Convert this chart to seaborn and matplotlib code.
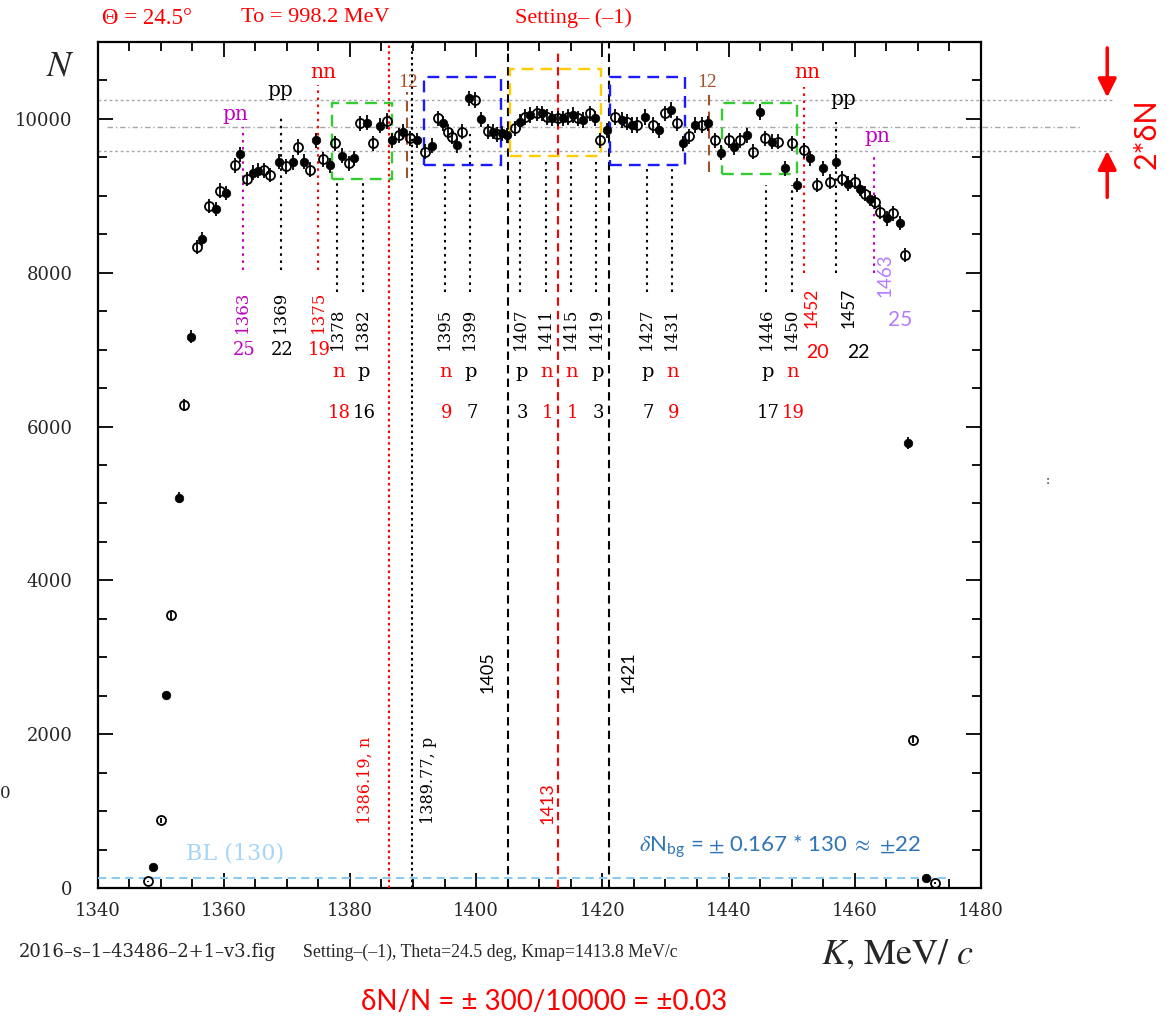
import numpy as np
import pandas as pd
import matplotlib
matplotlib.use("Agg")
import matplotlib.pyplot as plt
import seaborn as sns
from matplotlib.ticker import MultipleLocator
from matplotlib.patches import Rectangle

# ---------- DATA ----------
# filled points (K in MeV/c, counts N)
k_full = [1348.8, 1350.9, 1352.9, 1354.8, 1356.6, 1358.8, 1360.4, 1362.6, 1364.6, 1365.4,
          1368.7, 1370.9, 1372.7, 1374.7, 1376.9, 1378.7, 1380.6, 1382.7, 1384.8, 1386.6,
          1388.4, 1390.6, 1393.0, 1394.8, 1396.9, 1398.8, 1400.8, 1402.6, 1404.1, 1404.9,
          1407.0, 1408.5, 1410.4, 1412.0, 1413.8, 1415.4, 1417.0, 1418.8, 1420.7, 1423.1,
          1424.7, 1426.8, 1428.9, 1430.8, 1432.7, 1434.7, 1436.8, 1438.8, 1440.8, 1442.9,
          1445.0, 1446.9, 1449.0, 1450.8, 1452.9, 1454.9, 1457.0, 1459.0, 1460.8, 1462.4,
          1465.1, 1467.1, 1468.5, 1471.3]
n_full = [272, 2504, 5072, 7165, 8440, 8830, 9039, 9542, 9300, 9325,
          9442, 9435, 9442, 9720, 9400, 9520, 9490, 9950, 9910, 9724,
          9832, 9724, 9653, 9941, 9659, 10266, 9993, 9832, 9811, 9789,
          9962, 10049, 10071, 10006, 10006, 10049, 9984, 10006, 9854, 9984,
          9919, 10027, 9854, 10114, 9681, 9919, 9941, 9559, 9629, 9789,
          10092, 9702, 9356, 9139, 9486, 9356, 9442, 9160, 9095, 8965,
          8706, 8649, 5787, 130]

# open points
k_open = [1348.0, 1350.0, 1351.7, 1353.7, 1355.7, 1357.7, 1359.4, 1361.8, 1363.7, 1366.4,
          1367.4, 1369.9, 1371.8, 1373.7, 1375.7, 1377.6, 1379.8, 1381.6, 1383.7, 1385.8,
          1387.7, 1389.5, 1391.9, 1393.9, 1395.6, 1396.1, 1397.8, 1399.8, 1401.8, 1403.3,
          1406.2, 1407.8, 1409.6, 1411.2, 1413.0, 1414.6, 1416.2, 1418.1, 1419.6, 1422.0,
          1423.9, 1425.5, 1428.1, 1429.9, 1431.9, 1433.8, 1435.8, 1437.9, 1440.0, 1441.8,
          1443.9, 1445.8, 1447.9, 1450.0, 1451.9, 1454.0, 1456.0, 1457.9, 1460.1, 1461.6,
          1463.2, 1464.0, 1466.1, 1468.0, 1469.2, 1472.7]
n_open = [87, 881, 3548, 6284, 8330, 8870, 9065, 9399, 9220, 9334,
          9270, 9386, 9635, 9340, 9475, 9685, 9421, 9941, 9685, 9975,
          9789, 9746, 9572, 10006, 9832, 9767, 9832, 10244, 9841, 9802,
          9876, 10027, 10071, 10027, 10006, 10027, 10006, 10071, 9724, 10027,
          9962, 9919, 9919, 10071, 9941, 9776, 9919, 9724, 9724, 9724,
          9572, 9746, 9702, 9681, 9594, 9139, 9182, 9225, 9182, 9030,
          8922, 8792, 8771, 8229, 1924, 65]

# single-particle lines under the plateau
line_k = [1378, 1382, 1395, 1399, 1407, 1411, 1415, 1419, 1427, 1431, 1446, 1450]
line_kind = ["n", "p", "n", "p", "p", "n", "n", "p", "p", "n", "p", "n"]
line_count = [18, 16, 9, 7, 3, 1, 1, 3, 7, 9, 17, 19]

# pair lines
pair_k = [1363, 1369, 1375, 1452, 1457, 1463]
pair_kind = ["pn", "pp", "nn", "nn", "pp", "pn"]
pair_count = [25, 22, 19, 20, 22, 25]

# full-height reference lines
ref_k = [1386.19, 1389.77, 1405, 1413, 1421]
ref_label = ["1386.19, n", "1389.77, p", "1405", "1413", "1421"]

baseline = 130
dn_lines = [10240, 9900, 9580]

# ---------- STYLE ----------
sns.set_theme(style="ticks")
plt.rcParams["font.family"] = ["DejaVu Serif"]
plt.rcParams["mathtext.fontset"] = "stix"

RED = "#ff0000"
MAG = "#c000c0"
LAV = "#b57cff"
BROWN = "#a0522d"
SERIF = "Liberation Serif"
DSERIF = "DejaVu Serif"
SANS = "Lato"

W, H = 1167, 1019
fig = plt.figure(figsize=(W / 100, H / 100), dpi=100)
ax = fig.add_axes([97.5 / W, 1 - 888 / H, (981 - 97.5) / W, (888 - 42) / H])


def fx(px):
    return px / W


def fy(py):
    return 1 - py / H


df_full = pd.DataFrame({"K": k_full, "N": n_full})
df_open = pd.DataFrame({"K": k_open, "N": n_open})

# ---------- DATA POINTS ----------
ax.errorbar(df_full["K"], df_full["N"], yerr=np.sqrt(df_full["N"]), fmt="none",
            ecolor="black", elinewidth=1.3, zorder=5)
sns.scatterplot(data=df_full, x="K", y="N", color="black", s=38, marker="o",
                edgecolor="black", linewidth=0.5, ax=ax, zorder=6, legend=False)
ax.errorbar(df_open["K"], df_open["N"], yerr=np.sqrt(df_open["N"]), fmt="o",
            mfc="none", mec="black", mew=1.3, ms=6.5, ecolor="black",
            elinewidth=1.3, zorder=6)

# ---------- AXES ----------
ax.set_xlim(1340, 1480)
ax.set_ylim(0, 11000)
ax.set_xlabel("")
ax.set_ylabel("")
ax.xaxis.set_major_locator(MultipleLocator(20))
ax.xaxis.set_minor_locator(MultipleLocator(5))
ax.yaxis.set_major_locator(MultipleLocator(2000))
ax.yaxis.set_minor_locator(MultipleLocator(500))
ax.tick_params(which="both", direction="in", top=True, right=True,
               width=1.3, color="black")
ax.tick_params(which="major", length=11)
ax.tick_params(which="minor", length=6.5)
ax.tick_params(axis="x", which="major", pad=10, labelsize=13)
ax.tick_params(axis="y", which="major", pad=18, labelsize=13)
for lab in ax.get_xticklabels() + ax.get_yticklabels():
    lab.set_fontfamily(DSERIF)
for sp in ax.spines.values():
    sp.set_linewidth(1.6)
    sp.set_color("black")
    sp.set_visible(True)

# ---------- HORIZONTAL GUIDES ----------
ax.plot([1340, 1500.9], [dn_lines[0]] * 2, color="#a8a8a8", lw=1,
        ls=(0, (2, 2)), clip_on=False, zorder=2)
ax.plot([1341.5, 1495.9], [dn_lines[1]] * 2, color="#a8a8a8", lw=1,
        ls=(0, (4, 2, 1, 2)), clip_on=False, zorder=2)
ax.plot([1340, 1500.9], [dn_lines[2]] * 2, color="#a8a8a8", lw=1,
        ls=(0, (2, 2)), clip_on=False, zorder=2)
ax.plot([1340, 1475], [baseline] * 2, color="#8ccaf2", lw=1.5,
        ls=(0, (4, 2.5)), zorder=3)

# ---------- FULL HEIGHT LINES ----------
ref_style = [(RED, (0, (1.2, 1.6))), ("black", (0, (1.2, 1.6))),
             ("black", (0, (4, 2.5))), (RED, (0, (4, 2.5))), ("black", (0, (4, 2.5)))]
ref_top = [11000, 11000, 11000, 10894, 11000]
for k, (c, ls), top in zip(ref_k, ref_style, ref_top):
    ax.plot([k, k], [0, top], color=c, ls=ls, lw=1.5, zorder=3)

ax.text(1382.4, 1404, ref_label[0], rotation=90, color=RED, ha="center",
        va="center", fontsize=11.5, family=DSERIF)
ax.text(1392.4, 1404, ref_label[1], rotation=90, color="black", ha="center",
        va="center", fontsize=11.5, family=DSERIF)
ax.text(1401.8, 2808, ref_label[2], rotation=90, color="black", ha="center",
        va="center", fontsize=13, family=SANS)
ax.text(1411.3, 1105, ref_label[3], rotation=90, color=RED, ha="center",
        va="center", fontsize=13, family=SANS)
ax.text(1424.1, 2808, ref_label[4], rotation=90, color="black", ha="center",
        va="center", fontsize=13, family=SANS)

# ---------- DASHED BOXES ----------
boxes = [((1377.1, 9217), 1386.6, 10201, "#33cc33"),
         ((1391.8, 9399), 1403.9, 10547, "#1a1aff"),
         ((1405.4, 9516), 1419.8, 10655, "#ffcc00"),
         ((1421.2, 9399), 1433.1, 10547, "#1a1aff"),
         ((1438.9, 9282), 1450.8, 10201, "#33cc33")]
for (x0, y0), x1, y1, c in boxes:
    ax.add_patch(Rectangle((x0, y0), x1 - x0, y1 - y0, fill=False, ec=c, lw=1.7,
                           ls=(0, (5, 3)), zorder=4))

# brown "12" markers
for k, top, bot, tx in [(1389.0, 10348, 9230, 1389.2), (1436.9, 10335, 9308, 1436.6)]:
    ax.plot([k, k], [bot, top], color=BROWN, lw=1.5, ls=(0, (5, 3)), zorder=4)
    ax.text(tx, 10413, "12", color=BROWN, ha="center", va="baseline",
            fontsize=14, family=SERIF)

# ---------- SINGLE-PARTICLE LINES ----------
for k, kind, cnt in zip(line_k, line_kind, line_count):
    top = 9800 if k == 1399 else (9464 if 1405 < k < 1421 else 9204)
    if k in (1395, 1427, 1431):
        top = 9370
    if k in (1446, 1450):
        top = 9140
    ax.plot([k, k], [7748, top], color="black", ls=(0, (1.2, 2.2)), lw=1.5, zorder=3)
    c = RED if kind == "n" else "black"
    ax.text(k, 7267, str(k), rotation=90, ha="center", va="center",
            fontsize=12, family=DSERIF, color="black")
    ax.text(k + 0.2, 6708, kind, ha="center", va="center", fontsize=14,
            family=DSERIF, color=c)
    ax.text(k + 0.3, 6175, str(cnt), ha="center", va="center", fontsize=13,
            family=DSERIF, color=c)

# ---------- PAIR LINES ----------
pair_color = [MAG, "black", RED, RED, "black", MAG]
pair_top = [9893, 10049, 10439, 10413, 9958, 9503]
pair_text_y = [9984, 10296, 10530, 10530, 10179, 9702]
pair_text_x = [1361.8, 1368.9, 1375.7, 1452.5, 1458.1, 1463.5]
for i, (k, kind, cnt) in enumerate(zip(pair_k, pair_kind, pair_count)):
    c = pair_color[i]
    bottom = 8034 if i < 3 else 7995
    ax.plot([k, k], [bottom, pair_top[i]], color=c, ls=(0, (1.2, 2.2)), lw=1.5, zorder=3)
    ax.text(pair_text_x[i], pair_text_y[i], kind, color=c, ha="center",
            va="baseline", fontsize=14.5, family=DSERIF)
    if i < 3:
        ax.text(k, 7488, str(k), rotation=90, ha="center", va="center",
                fontsize=12, family=DSERIF, color=c)
        ax.text(k + 0.2, 6994, str(cnt), ha="center", va="center",
                fontsize=13, family=DSERIF, color=c)

ax.text(1453.2, 7540, "1452", rotation=90, ha="center", va="center",
        fontsize=12.5, family=SANS, color=RED)
ax.text(1454.1, 6968, "20", ha="center", va="center", fontsize=14,
        family=SANS, color=RED)
ax.text(1459.0, 7540, "1457", rotation=90, ha="center", va="center",
        fontsize=12.5, family=SANS, color="black")
ax.text(1460.5, 6968, "22", ha="center", va="center", fontsize=14,
        family=SANS, color="black")
ax.text(1464.8, 7969, "1463", rotation=90, ha="center", va="center",
        fontsize=13.5, family=SANS, color=LAV)
ax.text(1467.2, 7384, "25", ha="center", va="center", fontsize=15,
        family=SANS, color=LAV)

# ---------- TEXT ANNOTATIONS ----------
ax.text(1361.8, 455, f"BL ({baseline})", color="#a6d6f7", ha="center",
        va="center", fontsize=16, family=DSERIF)
ax.text(1448.2, 533, r"$\delta$N$_{\mathregular{bg}}$ = $\pm$ 0.167 * 130 $\approx$ $\pm$22",
        color="#2e75b6", ha="center", va="center", fontsize=16, family=SANS)

# arrows and 2*dN
ax.annotate("", xy=(1500.0, 10244), xytext=(1500.0, 10959), xycoords="data",
            annotation_clip=False,
            arrowprops=dict(arrowstyle="-|>", color=RED, lw=2.5, mutation_scale=28))
ax.annotate("", xy=(1500.0, 9620), xytext=(1500.0, 8944), xycoords="data",
            annotation_clip=False,
            arrowprops=dict(arrowstyle="-|>", color=RED, lw=2.5, mutation_scale=28))
fig.text(fx(1147), fy(134), "2*δN", rotation=90, color=RED, ha="center",
         va="center", fontsize=22, family=SANS)

# header
fig.text(fx(147), fy(18), "Θ = 24.5°", color=RED, ha="center", va="center",
         fontsize=16.5, family=SERIF)
fig.text(fx(315), fy(18), "To = 998.2 MeV", color=RED, ha="center", va="center",
         fontsize=16, family=SERIF)
fig.text(fx(573), fy(18), "Setting– (–1)", color=RED, ha="center", va="center",
         fontsize=16, family=SERIF)

# axis titles
fig.text(fx(60), fy(66), r"$N$", ha="center", va="center", fontsize=26)
fig.text(fx(897), fy(955), r"$K$, MeV/ $c$", ha="center", va="center", fontsize=26,
         family="STIXGeneral")

# footer
fig.text(fx(19), fy(952), "2016–s–1–43486–2+1–v3.fig", ha="left", va="center",
         fontsize=13, family=DSERIF)
fig.text(fx(303), fy(952), "Setting–(–1), Theta=24.5 deg, Kmap=1413.8 MeV/c",
         ha="left", va="center", fontsize=12.8, family=SERIF)
fig.text(fx(544), fy(1002), "δN/N = ± 300/10000 = ±0.03", color=RED, ha="center",
         va="center", fontsize=20, family=SANS)

# stray marks from the original
fig.text(fx(5), fy(793), "0", ha="center", va="center", fontsize=12, family=DSERIF)
fig.text(fx(1048), fy(480), ":", ha="center", va="center", fontsize=9, family=DSERIF)

fig.savefig("out.png", dpi=100)
